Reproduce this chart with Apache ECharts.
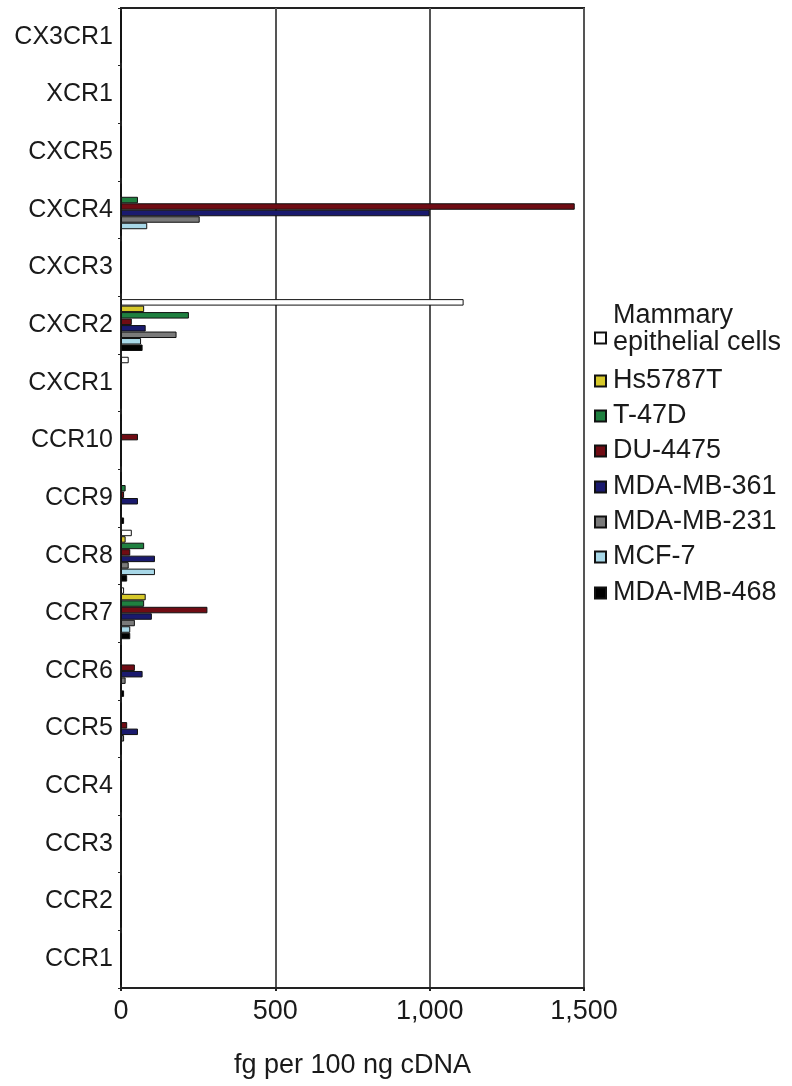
<!DOCTYPE html>
<html>
<head>
<meta charset="utf-8">
<script src="https://cdn.jsdelivr.net/npm/echarts@6/dist/echarts.min.js"></script>
<style>
  html, body { margin: 0; padding: 0; background: #fff; }
  #chart { width: 792px; height: 1086px; }
</style>
</head>
<body>
<div id="chart"></div>
<script>
// Chemokine receptors, bottom to top
const receptors = ['CCR1', 'CCR2', 'CCR3', 'CCR4', 'CCR5', 'CCR6', 'CCR7', 'CCR8', 'CCR9', 'CCR10',
  'CXCR1', 'CXCR2', 'CXCR3', 'CXCR4', 'CXCR5', 'XCR1', 'CX3CR1'];

// Cell lines, in legend order
const cellLines = ['Mammary epithelial cells', 'Hs5787T', 'T-47D', 'DU-4475',
  'MDA-MB-361', 'MDA-MB-231', 'MCF-7', 'MDA-MB-468'];

// Expression, fg per 100 ng cDNA (same order as receptors)
const mammary   = [0, 0, 0, 0, 0, 0, 10, 35, 0, 0, 25, 1110, 0, 0, 0, 0, 0];
const hs5787t   = [0, 0, 0, 0, 0, 0, 80, 15, 0, 0, 0, 75, 0, 0, 0, 0, 0];
const t47d      = [0, 0, 0, 0, 0, 0, 75, 75, 15, 0, 0, 220, 0, 55, 0, 0, 0];
const du4475    = [0, 0, 0, 0, 20, 45, 280, 30, 10, 55, 0, 35, 0, 1470, 0, 0, 0];
const mdamb361  = [0, 0, 0, 0, 55, 70, 100, 110, 55, 0, 0, 80, 0, 1000, 0, 0, 0];
const mdamb231  = [0, 0, 0, 0, 10, 15, 45, 25, 0, 0, 0, 180, 0, 255, 0, 0, 0];
const mcf7      = [0, 0, 0, 0, 0, 0, 30, 110, 0, 0, 0, 65, 0, 85, 0, 0, 0];
const mdamb468  = [0, 0, 0, 0, 0, 10, 30, 20, 10, 0, 0, 70, 0, 0, 0, 0, 0];

const xTicks = [0, 500, 1000, 1500];

const seriesValues = [mammary, hs5787t, t47d, du4475, mdamb361, mdamb231, mcf7, mdamb468];
const fills = ['#ffffff', '#d6c82a', '#1f8040', '#700c14', '#1a1a6e', '#7a7a7a', '#a8d8e8', '#000000'];
const legendCenters = [338, 381, 416, 451, 487, 522, 557, 593];

const FONT = '"Liberation Sans", Arial, Helvetica, sans-serif';
const chart = echarts.init(document.getElementById('chart'), null, { renderer: 'canvas' });

const series = cellLines.map((name, i) => ({
  name,
  type: 'bar',
  data: seriesValues[i],
  barGap: '0%',
  barCategoryGap: '10%',
  itemStyle: { color: fills[i], borderColor: '#111', borderWidth: 1 },
  emphasis: { disabled: true },
  animation: false
}));

const legends = cellLines.map((name, i) => {
  const first = i === 0;
  return {
    data: [name],
    orient: 'vertical',
    left: 594,
    top: first ? legendCenters[i] - 35.5 : legendCenters[i] - 14,
    padding: 0,
    itemGap: 0,
    itemWidth: 11,
    itemHeight: 11,
    icon: 'rect',
    selectedMode: false,
    formatter: first ? () => '{a|Mammary}\n{a|epithelial cells}\n{s|}' : undefined,
    textStyle: {
      fontFamily: FONT,
      fontSize: 27,
      color: '#1a1a1a',
      lineHeight: 28,
      padding: [0, 0, 0, 2],
      rich: first ? {
        a: { fontFamily: FONT, fontSize: 27, lineHeight: 27, color: '#1a1a1a' },
        s: { fontSize: 10, lineHeight: 17 }
      } : undefined
    }
  };
});

chart.setOption({
  backgroundColor: '#ffffff',
  animation: false,
  legend: legends,
  grid: {
    left: 121, right: 208, top: 8, bottom: 98,
    outerBoundsMode: 'none',
    containLabel: false,
    show: true, borderColor: '#222', borderWidth: 2, backgroundColor: 'transparent'
  },
  xAxis: {
    type: 'value',
    min: xTicks[0],
    max: xTicks[xTicks.length - 1],
    interval: xTicks[1] - xTicks[0],
    name: 'fg per 100 ng cDNA',
    nameLocation: 'middle',
    nameGap: 64,
    nameTextStyle: { fontFamily: FONT, fontSize: 27, color: '#1a1a1a' },
    axisLine: { show: true, lineStyle: { color: '#222', width: 2 } },
    axisTick: { show: true, length: 3, lineStyle: { color: '#222', width: 2 } },
    axisLabel: {
      fontFamily: FONT, fontSize: 27, color: '#1a1a1a', margin: 10,
      formatter: v => v.toLocaleString('en-US')
    },
    splitLine: { show: true, lineStyle: { color: '#555', width: 2 } }
  },
  yAxis: {
    type: 'category',
    data: receptors,
    axisLine: { show: true, lineStyle: { color: '#222', width: 2 } },
    axisTick: { show: true, length: 3, lineStyle: { color: '#222', width: 1 } },
    axisLabel: { fontFamily: FONT, fontSize: 25, color: '#1a1a1a', margin: 8 },
    splitLine: { show: false }
  },
  series
});
</script>
</body>
</html>
